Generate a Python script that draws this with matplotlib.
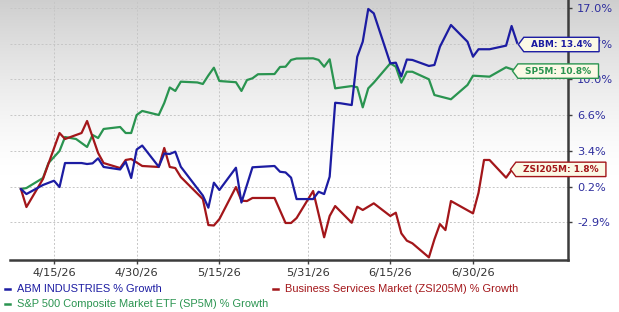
import numpy as np
import pandas as pd
import matplotlib
matplotlib.use("Agg")
import matplotlib.pyplot as plt
from matplotlib.path import Path
from matplotlib.lines import Line2D

# % growth
abm_dates = ["04-09", "04-10", "04-13", "04-15", "04-16", "04-17", "04-20", "04-21", "04-22", "04-23",
             "04-24", "04-27", "04-28", "04-29", "04-30", "05-01", "05-04", "05-05", "05-06", "05-07",
             "05-08", "05-12", "05-13", "05-14", "05-15", "05-18", "05-19", "05-21", "05-25", "05-26",
             "05-27", "05-28", "05-29", "06-01", "06-02", "06-03", "06-04", "06-05", "06-06", "06-08",
             "06-09", "06-10", "06-11", "06-12", "06-15", "06-16", "06-17", "06-18", "06-19", "06-22",
             "06-23", "06-24", "06-26", "06-29", "06-30", "07-01", "07-03", "07-06", "07-07", "07-08"]
abm_vals = [0.0, -0.46, 0.37, 0.76, 0.18, 2.38, 2.38, 2.29, 2.35, 2.81,
            2.02, 1.79, 2.50, 1.01, 3.62, 3.98, 2.04, 3.25, 3.21, 3.42,
            2.04, -0.60, -1.71, 0.58, -0.09, 1.95, -1.24, 1.99, 2.11, 1.58,
            1.52, 1.04, -0.92, -0.92, -0.25, -0.46, 1.13, 7.90, 7.85, 7.69,
            12.10, 13.49, 16.49, 16.09, 11.51, 11.57, 10.31, 11.86, 11.82, 11.27,
            11.36, 13.03, 15.02, 13.49, 12.12, 12.80, 12.80, 13.13, 14.93, 13.40]

sp5m_dates = ["04-09", "04-10", "04-13", "04-14", "04-16", "04-17", "04-19", "04-21", "04-22", "04-23",
              "04-24", "04-27", "04-28", "04-29", "04-30", "05-01", "05-04", "05-05", "05-06", "05-07",
              "05-08", "05-11", "05-12", "05-13", "05-14", "05-15", "05-18", "05-19", "05-20", "05-21",
              "05-22", "05-25", "05-26", "05-27", "05-28", "05-29", "06-01", "06-02", "06-03", "06-04",
              "06-05", "06-08", "06-09", "06-10", "06-11", "06-12", "06-15", "06-16", "06-17", "06-18",
              "06-19", "06-22", "06-23", "06-26", "06-29", "06-30", "07-03", "07-06", "07-08"]
sp5m_vals = [0.0, 0.09, 1.01, 2.38, 3.48, 4.76, 4.58, 3.85, 4.95, 4.67,
             5.50, 5.68, 5.13, 5.13, 6.78, 7.15, 6.78, 7.88, 9.30, 8.98,
             9.83, 9.76, 9.62, 10.40, 11.11, 9.89, 9.78, 8.98, 9.98, 10.14,
             10.51, 10.53, 11.18, 11.20, 11.82, 11.95, 11.97, 11.82, 11.20, 11.88,
             9.22, 9.43, 9.32, 7.48, 9.22, 9.74, 11.51, 11.20, 9.74, 10.74,
             10.74, 10.05, 8.61, 8.22, 9.53, 10.38, 10.29, 11.15, 10.80]

zsi_dates = ["04-09", "04-10", "04-13", "04-16", "04-17", "04-20", "04-21", "04-23", "04-24", "04-27",
             "04-28", "04-29", "05-01", "05-04", "05-05", "05-06", "05-07", "05-08", "05-12", "05-13",
             "05-14", "05-15", "05-18", "05-19", "05-20", "05-21", "05-25", "05-27", "05-28", "05-29",
             "06-01", "06-03", "06-04", "06-05", "06-08", "06-09", "06-10", "06-12", "06-15", "06-16",
             "06-17", "06-18", "06-19", "06-22", "06-23", "06-24", "06-25", "06-26", "06-30", "07-01",
             "07-02", "07-03", "07-06", "07-07", "07-08"]
zsi_vals = [0.0, -1.65, 0.92, 5.13, 4.58, 5.13, 6.23, 3.30, 2.38, 1.92,
            2.66, 2.75, 2.11, 2.02, 3.76, 2.02, 1.92, 1.10, -0.92, -3.30,
            -3.34, -2.75, 0.18, -1.07, -1.10, -0.82, -0.82, -3.11, -3.11, -2.66,
            -0.18, -4.42, -2.47, -1.56, -3.09, -1.62, -1.92, -1.31, -2.47, -2.17,
            -4.06, -4.73, -4.97, -6.26, -4.61, -3.21, -3.76, -1.10, -2.23, -0.34,
            2.66, 2.66, 1.04, 1.74, 1.80]

tick_dates = ["04-15", "04-30", "05-15", "05-31", "06-15", "06-30"]
tick_dlabels = ["4/15/26", "4/30/26", "5/15/26", "5/31/26", "6/15/26", "6/30/26"]
ytick_vals = [-3.05, 0.22, 3.49, 6.77, 10.04, 13.31, 16.58]
ytick_labels = ["-2.9%", "0.2%", "3.4%", "6.6%", "10.0%", "13.7%", "17.0%"]

labels = ["ABM INDUSTRIES % Growth", "Business Services Market (ZSI205M) % Growth",
          "S&P 500 Composite Market ETF (SP5M) % Growth"]
tags = ["ABM: 13.4%", "SP5M: 10.8%", "ZSI205M: 1.8%"]

c_abm, c_sp, c_zsi = "#1c1ca2", "#2a9450", "#a3161a"


def d(lst):
    return pd.to_datetime(["2026-" + s for s in lst])


def tag_box(x0, y0, width, height, mutation_size):
    px = mutation_size * 0.8
    py = mutation_size * 0.3
    notch = mutation_size * 0.6
    x0, x1 = x0 - px, x0 + width + px
    y0, y1 = y0 - py, y0 + height + py
    ym = (y0 + y1) / 2
    verts = [(x0, y1), (x0 - notch, ym), (x0, y0), (x1, y0), (x1, y1), (x0, y1)]
    return Path(verts, closed=True)


fig = plt.figure(figsize=(6.19, 3.12), dpi=100)

# grey fade at the top
bg = fig.add_axes([0, 0, 1, 1], zorder=-10)
rows = np.arange(312)
shade = np.where(rows < 175, 1 - 0.19 * (1 - rows / 175) ** 1.4, 1.0)
img = np.repeat(shade[:, None], 2, axis=1)
bg.imshow(np.dstack([img] * 3), aspect="auto", extent=[0, 1, 0, 1], origin="upper")
bg.axis("off")

ax = fig.add_axes([10 / 619, 52 / 312, 557.5 / 619, 260 / 312])
ax.set_facecolor("none")

ax.plot(d(sp5m_dates), sp5m_vals, color=c_sp, lw=1.6, zorder=3)
ax.plot(d(zsi_dates), zsi_vals, color=c_zsi, lw=1.6, zorder=3)
ax.plot(d(abm_dates), abm_vals, color=c_abm, lw=1.6, zorder=4)

base = pd.Timestamp("2026-04-15")
ax.set_xlim(base - pd.Timedelta(days=7.98), base + pd.Timedelta(days=93.14))
ax.set_ylim(-6.5, 17.31)

ax.set_xticks(d(tick_dates))
ax.set_xticklabels(tick_dlabels)
ax.yaxis.tick_right()
ax.set_yticks(ytick_vals)
ax.set_yticklabels(ytick_labels)
ax.tick_params(axis="x", length=3, width=1, color="#404040", labelcolor="#333333",
               labelsize=8.2, pad=2.5)
ax.tick_params(axis="y", length=3, width=1, color="#404040", labelcolor="#2e2e9e",
               labelsize=8.2, pad=4)

for s in ["left", "top"]:
    ax.spines[s].set_visible(False)
for s in ["right", "bottom"]:
    ax.spines[s].set_color("#3c3c3c")
    ax.spines[s].set_linewidth(1.8)

ax.grid(True, color="#c6c6c6", ls=(0, (2, 2)), lw=0.7)
ax.set_axisbelow(True)

# end-of-line tags
ends = [(abm_dates[-1], abm_vals[-1], c_abm, tags[0], 10, -1.3),
        (sp5m_dates[-1], sp5m_vals[-1], c_sp, tags[1], 5.8, 0),
        (zsi_dates[-1], zsi_vals[-1], c_zsi, tags[2], 4.3, 0)]
for dt, v, col, txt, dx, dy in ends:
    ax.annotate(txt, xy=(d([dt])[0], v), xytext=(dx, dy), textcoords="offset points",
                ha="left", va="center", fontsize=6.5, fontweight="bold", color=col,
                annotation_clip=False, zorder=10,
                bbox=dict(boxstyle=tag_box, fc="#fbf9e6", ec=col, lw=1.0))

# legend under the chart
leg = [(7, 289, c_abm, labels[0]), (275, 289, c_zsi, labels[1]), (7, 304, c_sp, labels[2])]
for x, y, col, txt in leg:
    yf = 1 - y / 312
    fig.add_artist(Line2D([(x - 2) / 619, (x + 3) / 619], [yf, yf], color=col, lw=1.8))
    fig.text((x + 10) / 619, yf, txt, color=col, fontsize=7.9, va="center", ha="left",
             family="Liberation Sans")

fig.savefig("out.png", dpi=100)
